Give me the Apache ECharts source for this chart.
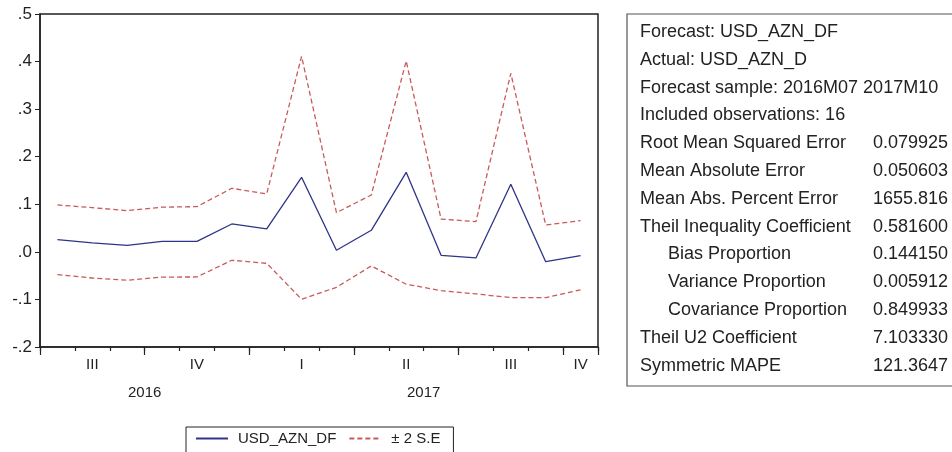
<!DOCTYPE html>
<html>
<head>
<meta charset="utf-8">
<script src="https://cdn.jsdelivr.net/npm/echarts@6/dist/echarts.min.js"></script>
<style>
  html, body { margin: 0; padding: 0; background: #fff; }
  #chart { width: 952px; height: 452px; }
</style>
</head>
<body>
<div id="chart"></div>
<script>
// monthly forecast sample 2016M07 .. 2017M10
const months = ['2016M07', '2016M08', '2016M09', '2016M10', '2016M11', '2016M12',
  '2017M01', '2017M02', '2017M03', '2017M04', '2017M05', '2017M06',
  '2017M07', '2017M08', '2017M09', '2017M10'];
const forecast = [0.0256, 0.019, 0.0138, 0.0222, 0.0222, 0.0586, 0.0481, 0.1568,
  0.0033, 0.0453, 0.1672, -0.0072, -0.0128, 0.142, -0.0206, -0.008];
const upper = [0.0986, 0.093, 0.0866, 0.094, 0.095, 0.1337, 0.1217, 0.411,
  0.0824, 0.1196, 0.4013, 0.069, 0.0635, 0.3754, 0.0565, 0.0656];
const lower = [-0.048, -0.055, -0.0597, -0.053, -0.0528, -0.0177, -0.024, -0.0997,
  -0.0745, -0.0296, -0.068, -0.0815, -0.0885, -0.0962, -0.0962, -0.080];
const quarterNames = ['I', 'II', 'III', 'IV'];

const statLabels = ['Forecast: USD_AZN_DF', 'Actual: USD_AZN_D',
  'Forecast sample: 2016M07 2017M10', 'Included observations: 16',
  'Root Mean Squared Error', 'Mean Absolute Error', 'Mean Abs. Percent Error',
  'Theil Inequality Coefficient', 'Bias Proportion', 'Variance Proportion',
  'Covariance Proportion', 'Theil U2 Coefficient', 'Symmetric MAPE'];
const statValues = ['', '', '', '', '0.079925', '0.050603', '1655.816', '0.581600',
  '0.144150', '0.005912', '0.849933', '7.103330', '121.3647'];
const statIndent = [0, 0, 0, 0, 0, 0, 0, 0, 1, 1, 1, 0, 0];

const BLUE = '#2e3487';
const RED = '#c95a58';
const INK = '#222';
const FONT = '"Liberation Sans", Arial, sans-serif';

// quarter of each month, and where its label goes (middle of available months)
const qOf = months.map(m => m.slice(0, 4) + 'Q' + Math.floor((+m.slice(5) - 1) / 3));
const qLabelIdx = {};
qOf.forEach((q, i) => { (qLabelIdx[q] = qLabelIdx[q] || []).push(i); });
const qLabelAt = new Set(Object.values(qLabelIdx).map(a => a[Math.floor((a.length - 1) / 2)]));
const qStart = new Set(Object.values(qLabelIdx).map(a => a[0]));

// year labels sit at the centre of each year's months
const yearPos = {};
months.forEach((m, i) => { (yearPos[m.slice(0, 4)] = yearPos[m.slice(0, 4)] || []).push(i); });
const yearCentre = {};
Object.keys(yearPos).forEach(y => {
  const a = yearPos[y];
  yearCentre[(a[0] + a[a.length - 1] + 1) / 2] = y;
});

const chart = echarts.init(document.getElementById('chart'));

const statTexts = [];
statLabels.forEach((t, i) => {
  const y = 32 + i * 27.8;
  statTexts.push({
    type: 'text', x: statIndent[i] ? 668 : 640, y: y,
    style: { text: t, fill: INK, font: '18px ' + FONT, verticalAlign: 'middle' }
  });
  if (statValues[i]) {
    statTexts.push({
      type: 'text', x: 873, y: y,
      style: { text: statValues[i], fill: INK, font: '18px ' + FONT, verticalAlign: 'middle' }
    });
  }
});

const option = {
  backgroundColor: '#fff',
  animation: false,
  textStyle: { fontFamily: FONT, color: INK },
  grid: { left: 40, right: 354, top: 14, bottom: 105, show: true, borderColor: INK, borderWidth: 1.5 },
  legend: {
    left: 186, top: 427,
    padding: [4, 13, 30, 9],
    borderColor: INK, borderWidth: 1,
    itemWidth: 32, itemHeight: 12, itemGap: 12,
    itemStyle: { opacity: 0 },
    textStyle: { fontSize: 15, color: INK, padding: [0, 0, 0, 5] },
    data: ['USD_AZN_DF', '± 2 S.E']
  },
  xAxis: [
    {
      type: 'category', data: months, boundaryGap: true, position: 'bottom',
      axisLine: { show: true, onZero: false, lineStyle: { color: INK, width: 1.5 } },
      axisTick: { show: true, interval: 0, length: 4, lineStyle: { color: INK, width: 1.2 } },
      axisLabel: {
        interval: (i) => qLabelAt.has(i),
        formatter: (v, i) => quarterNames[+qOf[i].slice(5)],
        fontSize: 15, color: INK, margin: 10
      }
    },
    {
      type: 'category', data: months, boundaryGap: true, position: 'bottom',
      axisLine: { show: false, onZero: false },
      axisTick: { show: true, interval: (i) => qStart.has(i), length: 8, lineStyle: { color: INK, width: 1.2 } },
      axisLabel: { show: false }
    },
    {
      type: 'value', min: 0, max: months.length, interval: 0.5, position: 'bottom',
      axisLine: { show: false, onZero: false }, axisTick: { show: false }, splitLine: { show: false },
      axisLabel: {
        formatter: (v) => yearCentre[v] || '',
        fontSize: 15, color: INK, margin: 38,
        showMinLabel: true, showMaxLabel: true
      }
    }
  ],
  yAxis: {
    type: 'value', min: -0.2, max: 0.5, interval: 0.1,
    axisLine: { show: true, lineStyle: { color: INK, width: 1.5 } },
    axisTick: { show: true, length: 5, lineStyle: { color: INK } },
    splitLine: { show: false },
    axisLabel: {
      fontSize: 17, color: INK, margin: 8,
      formatter: (v) => (Math.round(v * 10) / 10).toFixed(1).replace('0.', '.')
    }
  },
  series: [
    {
      name: 'USD_AZN_DF', type: 'line', data: forecast, symbol: 'none',
      lineStyle: { color: BLUE, width: 1.3 }, itemStyle: { color: BLUE }
    },
    {
      name: '± 2 S.E', type: 'line', data: upper, symbol: 'none',
      lineStyle: { color: RED, width: 1.3, type: [5, 3] }, itemStyle: { color: RED }
    },
    {
      name: '± 2 S.E', type: 'line', data: lower, symbol: 'none',
      lineStyle: { color: RED, width: 1.3, type: [5, 3] }, itemStyle: { color: RED }
    }
  ],
  graphic: [
    {
      type: 'group',
      children: [
        { type: 'rect', shape: { x: 627, y: 14, width: 400, height: 372 },
          style: { fill: '#fff', stroke: '#555', lineWidth: 1.2 } }
      ].concat(statTexts)
    }
  ]
};

chart.setOption(option);
</script>
</body>
</html>
